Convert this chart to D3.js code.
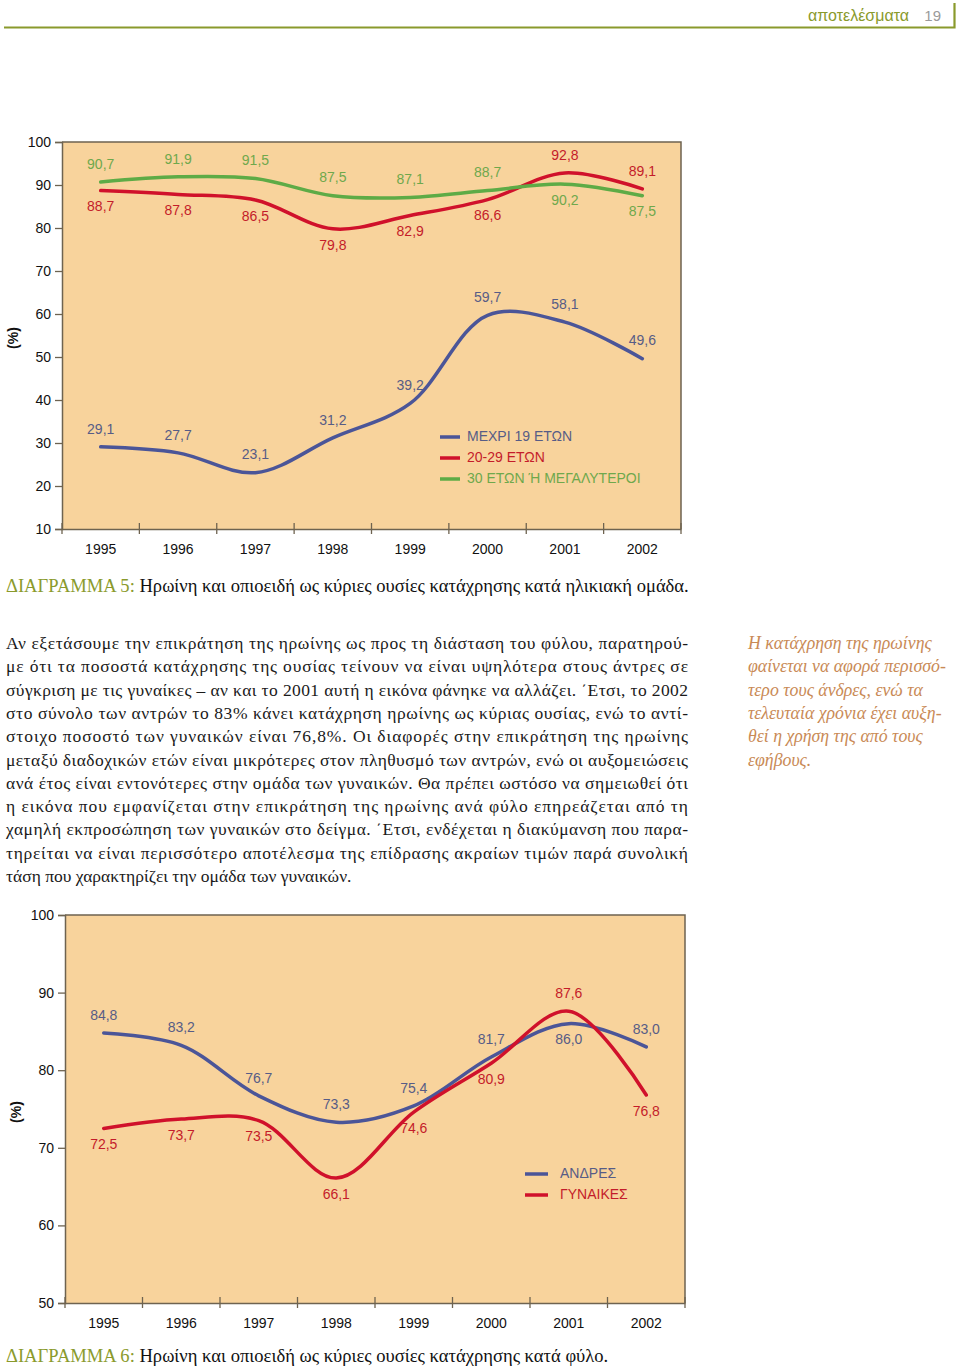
<!DOCTYPE html>
<html>
<head>
<meta charset="utf-8">
<script src="https://cdn.jsdelivr.net/npm/d3@7"></script>
<style>
  html, body { margin: 0; padding: 0; background: #fff; }
  svg { display: block; }
  .sans { font-family: "Liberation Sans", Arial, sans-serif; }
  .serif { font-family: "Liberation Serif", "DejaVu Serif", serif; }
</style>
</head>
<body>
<svg id="page" width="960" height="1369"></svg>
<script>
(function () {

    "use strict";

    // Values
    var years = ["1995", "1996", "1997", "1998", "1999", "2000", "2001", "2002"];

    var upTo19 = [29.1, 27.7, 23.1, 31.2, 39.2, 59.7, 58.1, 49.6],
        age20to29 = [88.7, 87.8, 86.5, 79.8, 82.9, 86.6, 92.8, 89.1],
        age30plus = [90.7, 91.9, 91.5, 87.5, 87.1, 88.7, 90.2, 87.5];

    var men = [84.8, 83.2, 76.7, 73.3, 75.4, 81.7, 86.0, 83.0],
        women = [72.5, 73.7, 73.5, 66.1, 74.6, 80.9, 87.6, 76.8];

    var ageTicks = [10, 20, 30, 40, 50, 60, 70, 80, 90, 100],
        sexTicks = [50, 60, 70, 80, 90, 100];

    var ageNames = ["ΜΕΧΡΙ 19 ΕΤΩΝ", "20-29 ΕΤΩΝ", "30 ΕΤΩΝ Ή ΜΕΓΑΛΥΤΕΡΟΙ"],
        sexNames = ["ΑΝΔΡΕΣ", "ΓΥΝΑΙΚΕΣ"];

    var paragraph = [
        "Αν εξετάσουμε την επικράτηση της ηρωίνης ως προς τη διάσταση του φύλου, παρατηρού-",
        "με ότι τα ποσοστά κατάχρησης της ουσίας τείνουν να είναι υψηλότερα στους άντρες σε",
        "σύγκριση με τις γυναίκες – αν και το 2001 αυτή η εικόνα φάνηκε να αλλάζει. ΄Ετσι, το 2002",
        "στο σύνολο των αντρών το 83% κάνει κατάχρηση ηρωίνης ως κύριας ουσίας, ενώ το αντί-",
        "στοιχο ποσοστό των γυναικών είναι 76,8%. Οι διαφορές στην επικράτηση της ηρωίνης",
        "μεταξύ διαδοχικών ετών είναι μικρότερες στον πληθυσμό των αντρών, ενώ οι αυξομειώσεις",
        "ανά έτος είναι εντονότερες στην ομάδα των γυναικών. Θα πρέπει ωστόσο να σημειωθεί ότι",
        "η εικόνα που εμφανίζεται στην επικράτηση της ηρωίνης ανά φύλο επηρεάζεται από τη",
        "χαμηλή εκπροσώπηση των γυναικών στο δείγμα. ΄Ετσι, ενδέχεται η διακύμανση που παρα-",
        "τηρείται να είναι περισσότερο αποτέλεσμα της επίδρασης ακραίων τιμών παρά συνολική",
        "τάση που χαρακτηρίζει την ομάδα των γυναικών."
    ];

    var sidenote = [
        "Η κατάχρηση της ηρωίνης",
        "φαίνεται να αφορά περισσό-",
        "τερο τους άνδρες, ενώ τα",
        "τελευταία χρόνια έχει αυξη-",
        "θεί η χρήση της από τους",
        "εφήβους."
    ];

    var BLUE = "#4b5598", RED = "#d0112b", GREEN = "#5eab46",
        BLUE_TXT = "#575c86", RED_TXT = "#c41c2a", GREEN_TXT = "#6fa84c",
        OLIVE = "#8a9a2c", AXIS = "#6e6350", FILL = "#f8d39c";

    var svg = d3.select("#page");

    function fmt(v) {
        return v.toFixed(1).replace(".", ",");
    }

    /* One line chart with band-style x axis */

    function drawChart(cfg) {
        var g = svg.append("g").attr("class", "sans");

        var x = d3.scaleBand().domain(years).range([cfg.left, cfg.right]),
            y = d3.scaleLinear().domain(cfg.domain).range([cfg.bottom, cfg.top]),
            cx = function (d, i) { return x(years[i]) + x.bandwidth() / 2; };

        g.append("rect")
            .attr("x", cfg.left).attr("y", cfg.top)
            .attr("width", cfg.right - cfg.left).attr("height", cfg.bottom - cfg.top)
            .attr("fill", FILL);

        // top and right frame
        g.append("path")
            .attr("d", "M" + cfg.left + "," + cfg.top + "H" + cfg.right + "V" + cfg.bottom)
            .attr("fill", "none").attr("stroke", AXIS).attr("stroke-width", 1.5);

        var yAxis = g.append("g")
            .attr("transform", "translate(" + cfg.left + ",0)")
            .call(d3.axisLeft(y).tickValues(cfg.ticks).tickSize(7).tickPadding(4));
        yAxis.select(".domain").attr("stroke", AXIS).attr("stroke-width", 1.5);
        yAxis.selectAll(".tick line").attr("stroke", AXIS).attr("stroke-width", 1.3);
        yAxis.selectAll("text").attr("font-size", 14).attr("fill", "#111")
            .attr("font-family", "Liberation Sans, Arial, sans-serif");

        var xAxis = g.append("g")
            .attr("transform", "translate(0," + cfg.bottom + ")")
            .call(d3.axisBottom(x).tickSize(0).tickPadding(15));
        xAxis.select(".domain").attr("stroke", AXIS).attr("stroke-width", 1.5);
        xAxis.selectAll("text").attr("font-size", 14).attr("fill", "#111")
            .attr("font-family", "Liberation Sans, Arial, sans-serif");

        // boundary ticks between years
        var bounds = years.map(function (yr) { return x(yr); }).concat([cfg.right]);
        g.selectAll("line.bound").data(bounds).enter().append("line")
            .attr("class", "bound")
            .attr("x1", function (d) { return d; }).attr("x2", function (d) { return d; })
            .attr("y1", cfg.bottom - 6).attr("y2", cfg.bottom + 5)
            .attr("stroke", AXIS).attr("stroke-width", 1.3);

        g.append("text")
            .attr("transform", "translate(" + cfg.unitX + "," + cfg.unitY + ") rotate(-90)")
            .attr("text-anchor", "middle").attr("dominant-baseline", "middle")
            .attr("font-size", 14).attr("font-weight", "bold").attr("fill", "#111")
            .text("(%)");

        var line = d3.line()
            .x(cx)
            .y(function (d) { return y(d); })
            .curve(d3.curveCatmullRom.alpha(0.5));

        cfg.series.forEach(function (s) {
            g.append("path")
                .datum(s.values)
                .attr("d", line)
                .attr("fill", "none")
                .attr("stroke", s.color)
                .attr("stroke-width", 3.5)
                .attr("stroke-linecap", "round");
        });

        // value labels: below when another series is just above, else above
        cfg.series.forEach(function (s) {
            g.selectAll(null).data(s.values).enter().append("text")
                .attr("x", cx)
                .attr("y", function (d, i) {
                    var below = cfg.series.some(function (o) {
                        var v = o.values[i];
                        return o !== s && v > d && v - d < 20;
                    });
                    return y(d) + (below ? 17 : -17);
                })
                .attr("text-anchor", "middle")
                .attr("dominant-baseline", "middle")
                .attr("font-size", 14)
                .attr("fill", s.text)
                .text(fmt);
        });

        var leg = g.selectAll("g.leg").data(cfg.series).enter().append("g")
            .attr("class", "leg")
            .attr("transform", function (d, i) {
                return "translate(" + cfg.legendX + "," + (cfg.legendY + i * cfg.legendStep) + ")";
            });
        leg.append("line")
            .attr("x1", 0).attr("x2", cfg.legendLine)
            .attr("stroke", function (d) { return d.color; })
            .attr("stroke-width", 3.5);
        leg.append("text")
            .attr("x", cfg.legendLine + cfg.legendGap)
            .attr("dominant-baseline", "middle")
            .attr("font-size", 14)
            .attr("fill", function (d) { return d.text; })
            .text(function (d) { return d.name; });
    }

    // caption face is narrower than Liberation Serif, so squeeze it a little
    function caption(yPos, label, rest) {
        var t = svg.append("text")
            .attr("class", "serif")
            .attr("transform", "translate(6," + yPos + ") scale(0.953,1)")
            .attr("font-size", 19.5);
        t.append("tspan").attr("fill", OLIVE).text(label);
        t.append("tspan").attr("fill", "#111").text(" " + rest);
    }

    /* Header */

    svg.append("text").attr("class", "sans")
        .attr("x", 909).attr("y", 21).attr("text-anchor", "end")
        .attr("font-size", 16).attr("fill", OLIVE).text("αποτελέσματα");
    svg.append("text").attr("class", "sans")
        .attr("x", 941).attr("y", 21).attr("text-anchor", "end")
        .attr("font-size", 15).attr("fill", "#9a9a9a").text("19");
    svg.append("path")
        .attr("d", "M4,27.5H954.5V3")
        .attr("fill", "none").attr("stroke", OLIVE).attr("stroke-width", 2.2);

    /* Chart 5: by age group */

    drawChart({
        left: 62, right: 681, top: 142, bottom: 529,
        domain: [10, 100], ticks: ageTicks,
        unitX: 14, unitY: 338,
        legendX: 440, legendY: 437, legendStep: 21, legendLine: 20, legendGap: 7,
        series: [
            {name: ageNames[0], values: upTo19, color: BLUE, text: BLUE_TXT},
            {name: ageNames[1], values: age20to29, color: RED, text: RED_TXT},
            {name: ageNames[2], values: age30plus, color: GREEN, text: GREEN_TXT}
        ]
    });

    caption(592, "ΔΙΑΓΡΑΜΜΑ 5:", "Ηρωίνη και οπιοειδή ως κύριες ουσίες κατάχρησης κατά ηλικιακή ομάδα.");

    /* Body text, justified */

    svg.append("g").attr("class", "serif")
        .selectAll("text").data(paragraph).enter().append("text")
        .attr("x", 6)
        .attr("y", function (d, i) { return 649 + i * 23.3; })
        .attr("font-size", 17.5)
        .attr("fill", "#1a1a1a")
        .each(function (d, i) {
            if (i < paragraph.length - 1) {
                d3.select(this).attr("textLength", 682).attr("lengthAdjust", "spacing");
            }
        })
        .text(function (d) { return d; });

    svg.append("g").attr("class", "serif")
        .selectAll("text").data(sidenote).enter().append("text")
        .attr("x", 748)
        .attr("y", function (d, i) { return 649 + i * 23.3; })
        .attr("font-size", 17.8)
        .attr("font-style", "italic")
        .attr("fill", "#c98a56")
        .text(function (d) { return d; });

    /* Chart 6: by sex */

    drawChart({
        left: 65, right: 685, top: 915, bottom: 1303,
        domain: [50, 100], ticks: sexTicks,
        unitX: 17, unitY: 1112,
        legendX: 525, legendY: 1174, legendStep: 21, legendLine: 23, legendGap: 12,
        series: [
            {name: sexNames[0], values: men, color: BLUE, text: BLUE_TXT},
            {name: sexNames[1], values: women, color: RED, text: RED_TXT}
        ]
    });

    caption(1362, "ΔΙΑΓΡΑΜΜΑ 6:", "Ηρωίνη και οπιοειδή ως κύριες ουσίες κατάχρησης κατά φύλο.");

}());
</script>
</body>
</html>
